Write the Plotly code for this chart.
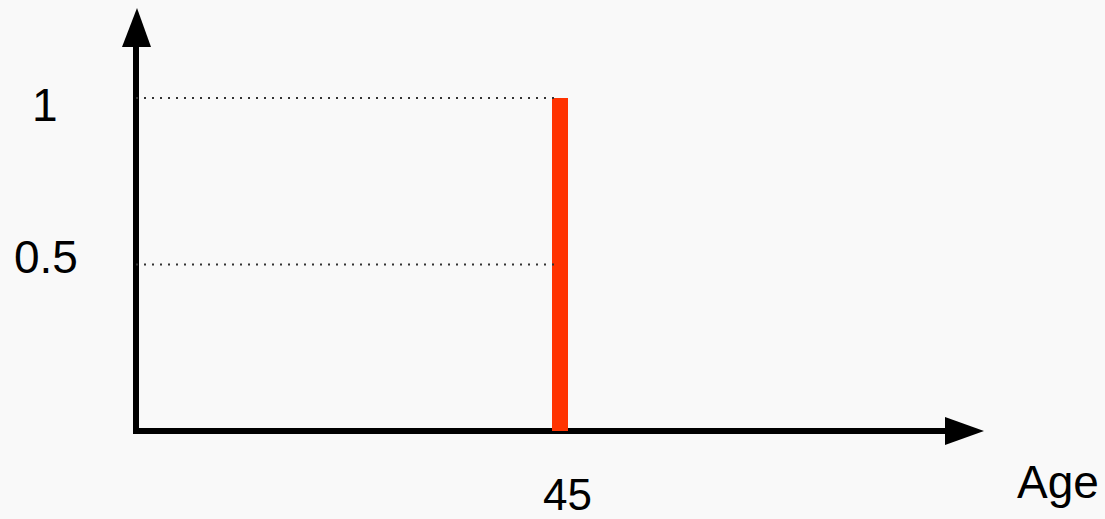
import plotly.graph_objects as go

# Step function: membership is 0 below age 45 and 1 from 45 on
ages = [45]
membership = [1]
guide_levels = [0.5, 1]
guide_labels = ["0.5", "1"]
x_label = "Age"
x_tick_label = "45"

# Axis extents (data units) and page geometry
W, H = 1105, 519
X_RANGE = [-14.434, 102.84]
Y_RANGE = [-0.2643, 1.2943]
X_END = 90.0
Y_END = 1.27
PX_X = W / (X_RANGE[1] - X_RANGE[0])
PX_Y = H / (Y_RANGE[1] - Y_RANGE[0])

FONT = "Liberation Sans, Arial, sans-serif"
BAR_COLOR = "#ff3300"
BG = "#f9f9f9"

fig = go.Figure()

# Dotted guides from the y axis to the bar at each level
for lvl in guide_levels:
    fig.add_trace(go.Scatter(
        x=[0, ages[0]], y=[lvl, lvl], mode="lines",
        line=dict(color="#333333", width=2, dash="2px,6px"),
        hoverinfo="skip", showlegend=False,
    ))

# The spike itself
fig.add_trace(go.Bar(
    x=ages, y=membership, width=16 / PX_X,
    marker=dict(color=BAR_COLOR, line=dict(width=0)),
    showlegend=False, hoverinfo="skip",
))

# Axes drawn as an L-shaped path with arrowheads
shaft_top = Y_END - 39 / PX_Y
shaft_right = X_END - 39 / PX_X
shapes = [
    dict(type="path", xref="x", yref="y", layer="below",
         path=f"M0,{shaft_top} L0,0 L{shaft_right},0",
         line=dict(color="black", width=6)),
    dict(type="path", xref="x", yref="y", xsizemode="pixel", ysizemode="pixel",
         xanchor=0, yanchor=Y_END, layer="above",
         path="M-14,-39 L1,0 L15,-39 Z",
         fillcolor="black", line=dict(width=0)),
    dict(type="path", xref="x", yref="y", xsizemode="pixel", ysizemode="pixel",
         xanchor=X_END, yanchor=0, layer="above",
         path="M-39,14 L0,0 L-39,-14 Z",
         fillcolor="black", line=dict(width=0)),
]

annotations = [
    dict(x=0, y=guide_levels[1], xref="x", yref="y", text=guide_labels[1],
         showarrow=False, xanchor="center", yanchor="middle",
         xshift=-91, yshift=-7, font=dict(family=FONT, size=46, color="black")),
    dict(x=0, y=guide_levels[0], xref="x", yref="y", text=guide_labels[0],
         showarrow=False, xanchor="center", yanchor="middle",
         xshift=-90, yshift=7, font=dict(family=FONT, size=46, color="black")),
    dict(x=ages[0], y=0, xref="x", yref="y", text=x_tick_label,
         showarrow=False, xanchor="center", yanchor="middle",
         xshift=7, yshift=-64, font=dict(family=FONT, size=44, color="black")),
    dict(x=X_END, y=0, xref="x", yref="y", text=x_label,
         showarrow=False, xanchor="center", yanchor="middle",
         xshift=74, yshift=-51, font=dict(family=FONT, size=46, color="black")),
]

fig.update_layout(
    width=W, height=H,
    margin=dict(l=0, r=0, t=0, b=0),
    paper_bgcolor=BG, plot_bgcolor=BG,
    shapes=shapes, annotations=annotations,
    xaxis=dict(range=X_RANGE, visible=False, fixedrange=True),
    yaxis=dict(range=Y_RANGE, visible=False, fixedrange=True),
    bargap=0,
)

fig.write_html("out.html")
